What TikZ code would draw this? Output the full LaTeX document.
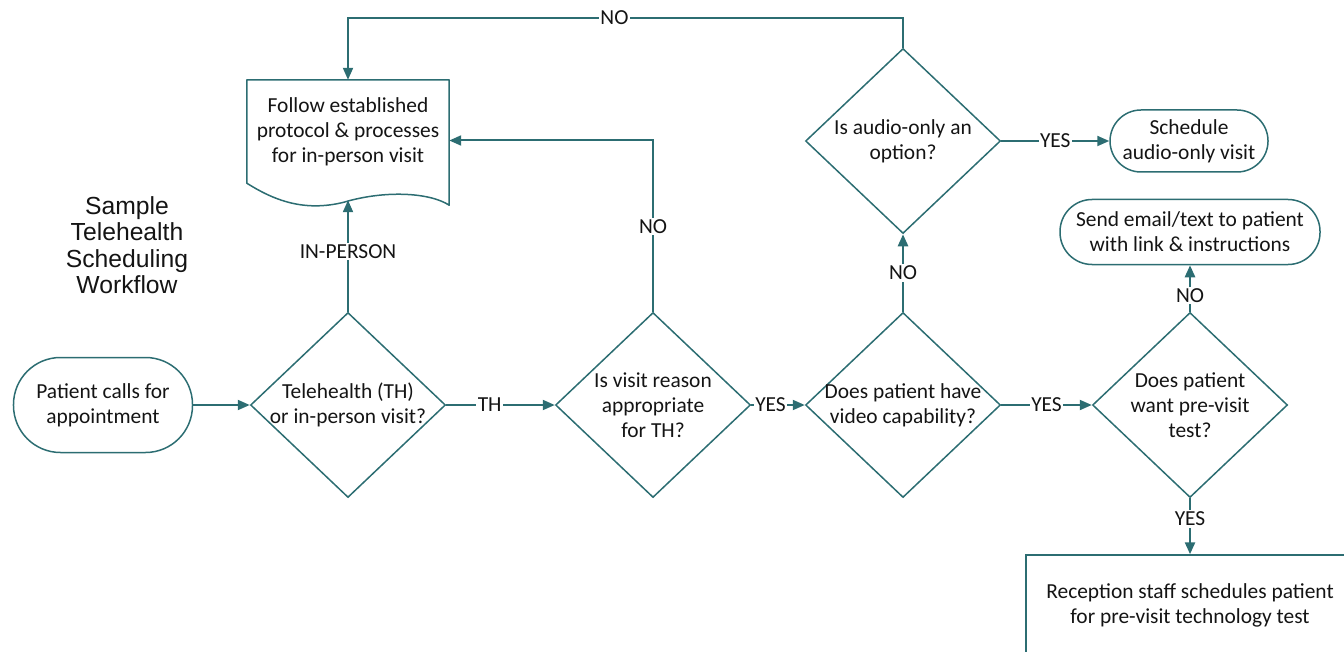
\documentclass[tikz,border=0pt]{standalone}
\usepackage{fontspec}
\setmainfont{Carlito}
\newfontfamily\titlefont{Liberation Sans}
\usetikzlibrary{shapes.geometric,arrows.meta,positioning,calc}
\definecolor{flowteal}{RGB}{44,109,114}
\definecolor{inktext}{RGB}{20,20,20}

\begin{document}
\begin{tikzpicture}[x=1bp,y=1bp,font=\fontsize{21.5}{25}\selectfont,text=inktext,>={Triangle[length=12bp,width=10bp]}]

\tikzstyle{term}=[draw=flowteal,line width=1.5bp,align=center,inner sep=0pt]
\tikzstyle{decision}=[diamond,draw=flowteal,line width=1.5bp,aspect=1.05,inner sep=-12bp,minimum width=195bp,minimum height=185bp,align=center]
\tikzstyle{flow}=[->,draw=flowteal,line width=2bp]
\tikzstyle{answer}=[fill=white,inner sep=1.5bp]

\useasboundingbox (0,0) rectangle (1344,-652);

\node[term,minimum width=179bp,minimum height=95bp,rounded corners=47bp](start) at (103,-405){Patient calls for\\appointment};

\node[decision](d1)[node distance=245bp,right of=start]{Telehealth (TH)\\or in-person visit?};
\node[decision](d2)[node distance=305bp,right of=d1]{Is visit reason\\appropriate\\for TH?};
\node[decision](d3)[node distance=250bp,right of=d2]{Does patient have\\video capability?};
\node[decision](d4)[node distance=287bp,right of=d3]{Does patient\\want pre-visit\\test?};
\node[decision](d5)[node distance=264bp,above of=d3]{Is audio-only an\\option?};

\node[term,minimum width=158bp,minimum height=62bp,rounded corners=31bp](audio)[node distance=286bp,right of=d5]{Schedule\\audio-only visit};
\node[term,minimum width=260bp,minimum height=65bp,rounded corners=32bp](email)[node distance=173bp,above of=d4]{Send email/text to patient\\with link \& instructions};
\node[term,rectangle,minimum width=328bp,minimum height=100bp](staff)[node distance=200bp,below of=d4]{Reception staff schedules patient\\for pre-visit technology test};

% document shape for the in-person branch
\node[align=center,minimum width=202bp,minimum height=103bp,inner sep=0pt](doc)[node distance=273.5bp,above of=d1]{Follow established\\protocol \& processes\\for in-person visit};
\draw[flowteal,line width=1.5bp,line join=round](doc.south west)--(doc.north west)--(doc.north east)
  --($(doc.south east)+(0,-22)$)
  .. controls ($(doc.south east)+(-20,-9)$) and ($(doc.south)+(36,-7)$) .. ($(doc.south)+(-4,-19)$)
  .. controls ($(doc.south)+(-44,-29)$) and ($(doc.south west)+(27,-17)$) .. (doc.south west)--cycle;
\coordinate(docb) at ($(doc.south)+(0,-17)$);

\node[font=\titlefont\fontsize{24.8}{26.5}\selectfont,align=center](title) at (127,-245){Sample\\Telehealth\\Scheduling\\Workflow};

\draw[flow](start)--(d1);
\draw[flow](d1)--node[answer,pos=0.4]{TH}(d2);
\draw[flow](d2)--node[answer,pos=0.36]{YES}(d3);
\draw[flow](d3)--node[answer,pos=0.5]{YES}(d4);
\draw[flow](d1.north)--node[answer,pos=0.54]{IN-PERSON}(docb);
\draw[flow](d2.north)|-node[answer,pos=0.25]{NO}([yshift=-9bp]doc.east);
\draw[flow,line width=2.5bp](d3.north)--node[answer]{NO}(d5.south);
\draw[flow](d5)--node[answer]{YES}(audio);
\draw[flow](d5.north)--++(0,30)-|node[answer,pos=0.26]{NO}(doc.north);
\draw[flow,line width=2.5bp](d4.north)--node[answer,pos=0.35]{NO}(email.south);
\draw[flow,line width=2.5bp](d4.south)--node[answer,pos=0.37]{YES}(staff.north);

\end{tikzpicture}
\end{document}
